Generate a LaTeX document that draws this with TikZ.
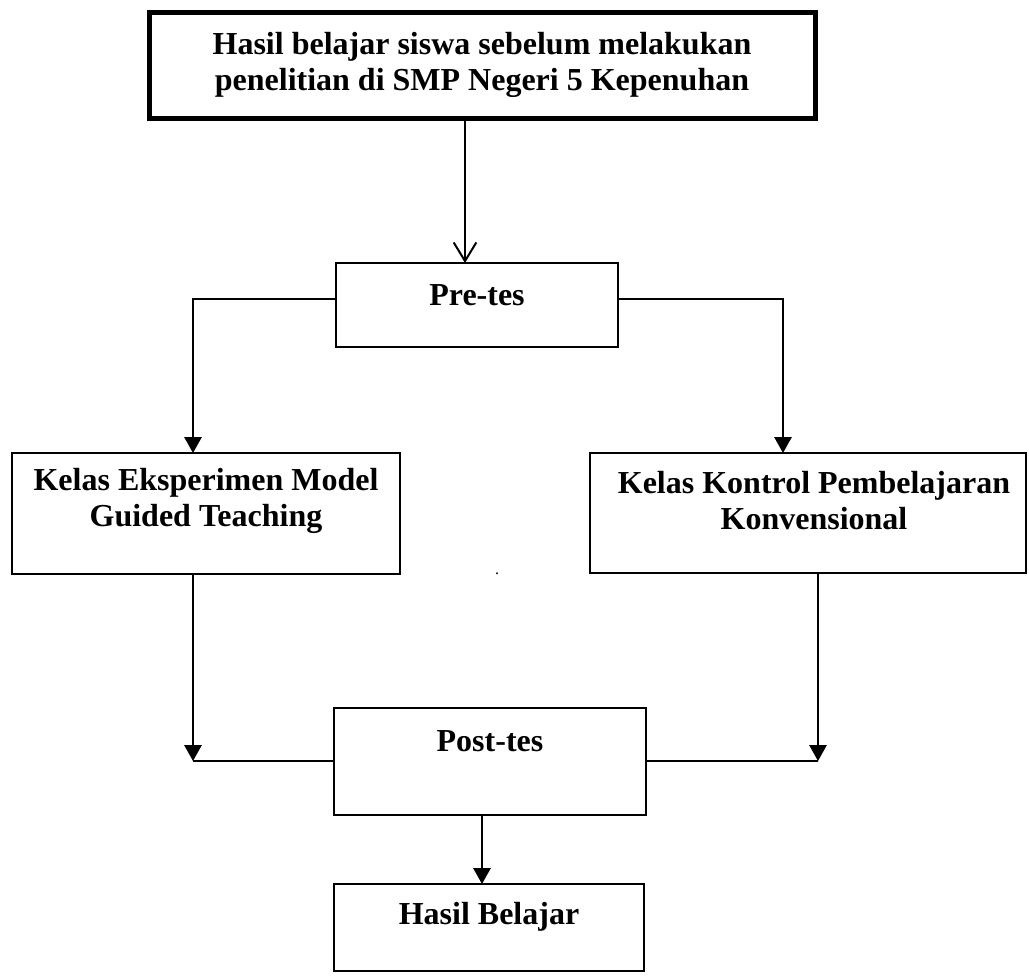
\documentclass[tikz,border=0pt]{standalone}
\usepackage{fontspec}
\setmainfont{Liberation Serif}
\usetikzlibrary{arrows.meta}

\tikzset{
  box/.style={draw=black, line width=1.5pt},
  heavybox/.style={draw=black, line width=3.75pt},
  caption/.style={font=\bfseries\fontsize{24}{27}\selectfont, align=center},
  filltip/.style={-{Triangle[length=12pt,width=13pt]}, line width=1.5pt},
  opentip/.style={-{Straight Barb[length=14pt,width=17pt]}, line width=1.5pt},
}

\begin{document}
\begin{tikzpicture}[x=0.75pt, y=0.75pt, yscale=-1, inner sep=0pt, outer sep=0pt]
  \useasboundingbox[fill=white] (0,0) rectangle (1029,978);

  % boxes
  \node[heavybox, minimum width=499.5pt, minimum height=79.5pt] (top) at (482,65) {};
  \node[box, minimum width=211.5pt, minimum height=63pt] (pre) at (477,305) {};
  \node[box, minimum width=291pt, minimum height=90.75pt] (eks) at (206,513.5) {};
  \node[box, minimum width=327pt, minimum height=90pt] (kon) at (808,513) {};
  \node[box, minimum width=234pt, minimum height=80.25pt] (post) at (490,761.5) {};
  \node[box, minimum width=232.5pt, minimum height=65.25pt] (hasil) at (489,927.5) {};

  % texts
  \node[caption] (toptext) at (482,65) {Hasil belajar siswa sebelum melakukan\\penelitian di SMP Negeri 5 Kepenuhan};
  \node[caption] (pretext) at (477,295) {Pre-tes};
  \node[caption] (ekstext) at (206,500.5) {Kelas Eksperimen Model\\Guided Teaching};
  \node[caption] (kontext) at (814,500.5) {Kelas Kontrol Pembelajaran\\Konvensional};
  \node[caption] (posttext) at (490,741) {Post-tes};
  \node[caption] (hasiltext) at (489,917) {Hasil Belajar};
  \node[font=\fontsize{12}{12}\selectfont] (dot) at (497,574) {.};

  % connectors
  \coordinate (drop) at (465,0);
  \coordinate (forkL) at (193,299);
  \coordinate (forkR) at (783,299);
  \coordinate (joinL) at (193,761);
  \coordinate (joinR) at (818,761);
  \coordinate (dropb) at (482,0);
  \draw[opentip] (top.south -| drop) -- (pre.north -| drop);
  \draw[filltip] (pre.west |- forkL) -| (forkL |- eks.north);
  \draw[filltip] (pre.east |- forkR) -| (forkR |- kon.north);
  \draw[filltip] (eks.south -| joinL) -- (joinL);
  \draw[line width=1.5pt] (joinL) -- (post.west |- joinL);
  \draw[filltip] (kon.south -| joinR) -- (joinR);
  \draw[line width=1.5pt] (joinR) -- (post.east |- joinR);
  \draw[filltip] (post.south -| dropb) -- (hasil.north -| dropb);
\end{tikzpicture}
\end{document}
